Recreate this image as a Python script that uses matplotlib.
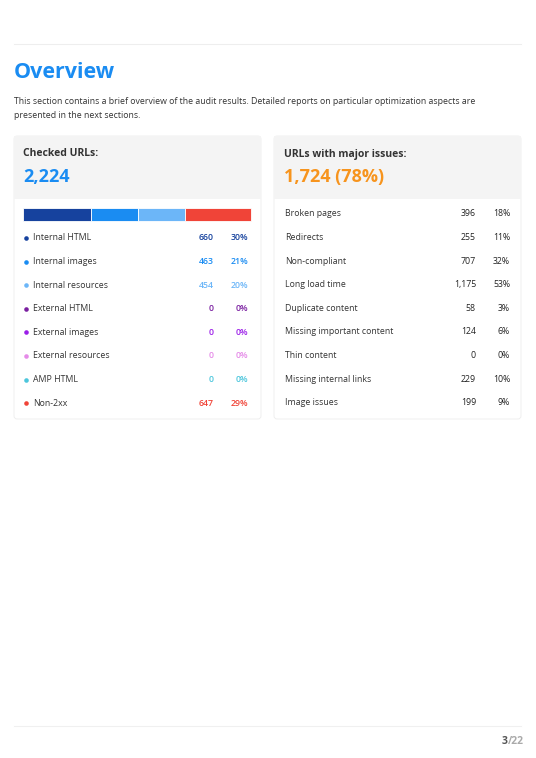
import matplotlib
matplotlib.use("Agg")
import matplotlib.pyplot as plt
from matplotlib.patches import FancyBboxPatch, Rectangle

plt.rcParams['font.family'] = ['Open Sans', 'DejaVu Sans']

checked_labels = ['Internal HTML', 'Internal images', 'Internal resources', 'External HTML',
                  'External images', 'External resources', 'AMP HTML', 'Non-2xx']
checked_counts = [660, 463, 454, 0, 0, 0, 0, 647]
checked_pcts = [30, 21, 20, 0, 0, 0, 0, 29]
checked_colors = ['#16429e', '#1a8cf2', '#6cb6f8', '#7a1fa0', '#9b1ee8', '#e58be8', '#4cc6dc', '#f04438']
total_checked = 2224

issue_labels = ['Broken pages', 'Redirects', 'Non-compliant', 'Long load time', 'Duplicate content',
                'Missing important content', 'Thin content', 'Missing internal links', 'Image issues']
issue_counts = [396, 255, 707, 1175, 58, 124, 0, 229, 199]
issue_pcts = [18, 11, 32, 53, 3, 6, 0, 10, 9]
major_total, major_pct = 1724, 78

fig = plt.figure(figsize=(5.36, 7.58), dpi=100)
ax = fig.add_axes([0, 0, 1, 1])
ax.set_xlim(0, 536)
ax.set_ylim(758, 0)
ax.axis('off')

txt = '#333333'
ax.plot([14, 521], [44, 44], color='#eeeeee', lw=0.8)
ax.text(14, 73, 'Overview', fontsize=15.5, fontweight='bold', color='#1a8cf2', va='center')
ax.text(14, 101, 'This section contains a brief overview of the audit results. Detailed reports on particular optimization aspects are',
        fontsize=6.3, color=txt, va='center')
ax.text(14, 115, 'presented in the next sections.', fontsize=6.3, color=txt, va='center')

for x0 in (14, 274):
    ax.add_patch(FancyBboxPatch((x0, 136), 247, 283, boxstyle='round,pad=0,rounding_size=3',
                                fc='white', ec='#ececec', lw=0.6))
    ax.add_patch(Rectangle((x0, 136), 247, 63, fc='#f4f4f4', ec='none'))

ax.text(23, 154, 'Checked URLs:', fontsize=7.5, fontweight='bold', color=txt, va='center')
ax.text(23, 177, f'{total_checked:,}', fontsize=13, fontweight='bold', color='#1a8cf2', va='center')
ax.text(284, 154, 'URLs with major issues:', fontsize=7.5, fontweight='bold', color=txt, va='center')
ax.text(284, 177, f'{major_total:,} ({major_pct}%)', fontsize=13, fontweight='bold', color='#f7941d', va='center')

# stacked bar
scale = 228 / sum(checked_counts)
left = 23
for c, col in zip(checked_counts, checked_colors):
    if c:
        ax.barh(214.5, c * scale, left=left, height=13, color=col, edgecolor='white', linewidth=0.6)
        left += c * scale

row_y0, row_dy = 238, 23.6
for i, (lab, c, p, col) in enumerate(zip(checked_labels, checked_counts, checked_pcts, checked_colors)):
    y = row_y0 + i * row_dy
    ax.plot(26, y, 'o', ms=3.3, color=col, mec='none')
    ax.text(33, y, lab, fontsize=6.3, color=txt, va='center')
    ax.text(214, y, f'{c:,}', fontsize=6.3, color=col, va='center', ha='right', fontweight='semibold')
    ax.text(248, y, f'{p}%', fontsize=6.3, color=col, va='center', ha='right', fontweight='semibold')

for i, (lab, c, p) in enumerate(zip(issue_labels, issue_counts, issue_pcts)):
    y = 214 + i * row_dy
    ax.text(285, y, lab, fontsize=6.3, color=txt, va='center')
    ax.text(476, y, f'{c:,}', fontsize=6.3, color='#222222', va='center', ha='right')
    ax.text(510, y, f'{p}%', fontsize=6.3, color='#222222', va='center', ha='right')

ax.plot([14, 521], [726, 726], color='#f0f0f0', lw=0.8)
ax.text(508, 741, '3', fontsize=7.5, fontweight='bold', color='#555555', va='center', ha='right')
ax.text(508, 741, '/22', fontsize=7.5, fontweight='bold', color='#aaaaaa', va='center', ha='left')

fig.savefig('out.png', dpi=100)
